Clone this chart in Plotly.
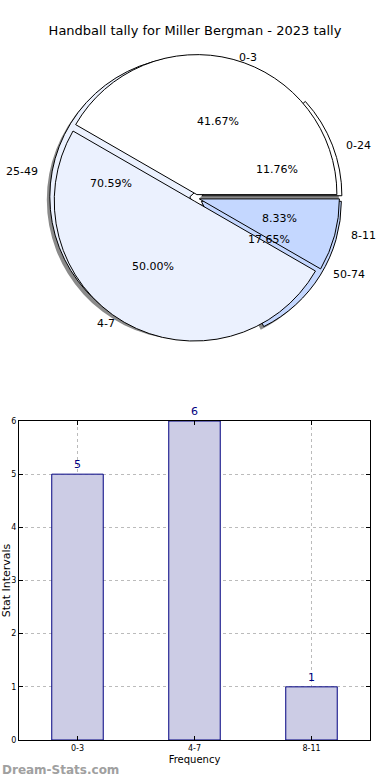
import math
import plotly.graph_objects as go

# ---- data ----
title_text = "Handball tally for Miller Bergman - 2023 tally"
front_labels = ["0-3", "4-7", "8-11"]
front_values = [5, 6, 1]
back_labels = ["0-24", "25-49", "50-74"]
back_values = [2, 12, 3]
bar_categories = ["0-3", "4-7", "8-11"]
bar_values = [5, 6, 1]
y_ticks = [0, 1, 2, 3, 4, 5, 6]

slice_colors = ["#FFFFFF", "#EBF1FE", "#C4D7FF"]
FONT = "DejaVu Sans"
W, H = 390, 780

# pie geometry (pixels)
cx, cy, r = 196, 198, 140
rx_txt, ry_txt = 144, 132          # text placement radii (reference pie is slightly oval)
pct_dist, lab_dist = 0.6, 1.1
front_pull = 0.025
back_pull = 0.045


def dom(cx, cy, r, pull):
    half = r * (1 + pull)
    return dict(x=[(cx - half) / W, (cx + half) / W],
                y=[1 - (cy + half) / H, 1 - (cy - half) / H])


def rev(a):
    return list(a)[::-1]


fig = go.Figure()
# slices listed in reverse and drawn clockwise from 3 o'clock == counterclockwise from 0deg
common = dict(sort=False, direction="clockwise", rotation=90,
              hoverinfo="skip", showlegend=False, textinfo="none")

# shadow
fig.add_trace(go.Pie(labels=rev(back_labels), values=rev(back_values),
                     marker=dict(colors=["#8A8A8A"] * 3, line=dict(width=0)),
                     pull=[back_pull] * 3,
                     domain=dom(cx - 3, cy + 3, r, back_pull), **common))
# back pie
fig.add_trace(go.Pie(labels=rev(back_labels), values=rev(back_values),
                     marker=dict(colors=rev(slice_colors), line=dict(color="#000000", width=1)),
                     pull=[back_pull] * 3,
                     domain=dom(cx, cy, r, back_pull), **common))
# front pie
fig.add_trace(go.Pie(labels=rev(front_labels), values=rev(front_values),
                     marker=dict(colors=rev(slice_colors), line=dict(color="#000000", width=1)),
                     pull=[front_pull] * 3,
                     domain=dom(cx, cy, r, front_pull), **common))

# pie texts: percentages at 0.6 radius, labels at 1.1 radius (mid-angle of each slice)
annotations = []
for labs, vals in [(front_labels, front_values), (back_labels, back_values)]:
    total = float(sum(vals))
    start = 0.0
    for lab, v in zip(labs, vals):
        frac = v / total
        mid = math.radians(360.0 * (start + frac / 2))
        start += frac
        c, s = math.cos(mid), math.sin(mid)
        annotations.append(dict(
            text=f"{frac * 100:.2f}%", xref="paper", yref="paper",
            x=(cx + pct_dist * rx_txt * c) / W, y=1 - (cy - pct_dist * ry_txt * s) / H,
            xanchor="center", yanchor="middle", showarrow=False,
            font=dict(family=FONT, size=11, color="#000000")))
        annotations.append(dict(
            text=lab, xref="paper", yref="paper",
            x=(cx + lab_dist * rx_txt * c) / W, y=1 - (cy - lab_dist * ry_txt * s) / H,
            xanchor="left" if c > 0 else "right", yanchor="middle", showarrow=False,
            font=dict(family=FONT, size=11, color="#000000")))

annotations.append(dict(text="<b>Dream-Stats.com</b>", x=0, xref="paper", xanchor="left",
                        y=1 - 770 / H, yref="paper", yanchor="middle", showarrow=False,
                        font=dict(family=FONT, size=12, color="#A0A0A0")))

# bar chart
fig.add_trace(go.Bar(x=bar_categories, y=bar_values, width=0.44,
                     marker=dict(color="#CCCCE5", line=dict(color="#000080", width=1)),
                     text=[str(v) for v in bar_values], textposition="outside",
                     textfont=dict(family=FONT, size=11, color="#000080"),
                     cliponaxis=False, hoverinfo="skip", showlegend=False,
                     xaxis="x", yaxis="y"))

fig.update_layout(
    width=W, height=H, margin=dict(l=0, r=0, t=0, b=0),
    paper_bgcolor="#FFFFFF", plot_bgcolor="#FFFFFF",
    font=dict(family=FONT, color="#000000"),
    title=dict(text=title_text, x=0.5, xanchor="center", y=1 - 30 / H, yanchor="middle",
               font=dict(family=FONT, size=13, color="#000000")),
    xaxis=dict(domain=[19 / W, 370 / W], anchor="y", range=[-0.5, 2.5], automargin=False,
               showgrid=True, gridcolor="#BBBBBB", griddash="dot", gridwidth=1,
               ticks="inside", ticklen=4, tickcolor="#000000",
               showline=True, linecolor="#000000", linewidth=1, mirror="ticks",
               tickfont=dict(family=FONT, size=8, color="#000000"),
               title=dict(text="Frequency", font=dict(family=FONT, size=10), standoff=4),
               zeroline=False, fixedrange=True),
    yaxis=dict(domain=[1 - 740 / H, 1 - 421 / H], anchor="x", range=[0, 6], automargin=False,
               tickvals=y_ticks, showgrid=True, gridcolor="#BBBBBB", griddash="dot",
               gridwidth=1, ticks="inside", ticklen=4, tickcolor="#000000",
               showline=True, linecolor="#000000", linewidth=1, mirror="ticks",
               tickfont=dict(family=FONT, size=8, color="#000000"),
               title=dict(text="Stat Intervals", font=dict(family=FONT, size=11), standoff=2),
               zeroline=False, fixedrange=True),
    annotations=annotations,
)

fig.write_html("out.html", config={"displayModeBar": False},
               post_script="document.body.style.margin='0';")
